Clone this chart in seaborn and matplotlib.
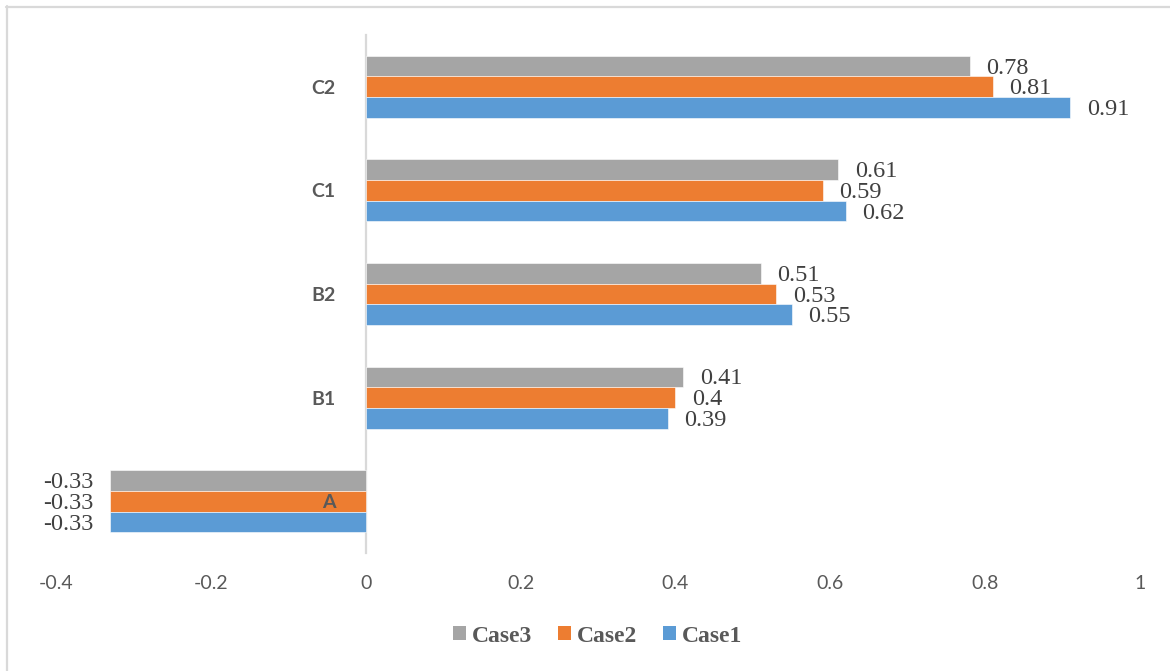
import matplotlib
matplotlib.use("Agg")
import matplotlib.pyplot as plt
from matplotlib.lines import Line2D
from matplotlib.patches import Patch
import seaborn as sns
import pandas as pd

# Scores per category for each case
categories = ["C2", "C1", "B2", "B1", "A"]
case1 = [0.91, 0.62, 0.55, 0.39, -0.33]
case2 = [0.81, 0.59, 0.53, 0.40, -0.33]
case3 = [0.78, 0.61, 0.51, 0.41, -0.33]
series_names = ["Case3", "Case2", "Case1"]
x_ticks = [-0.4, -0.2, 0, 0.2, 0.4, 0.6, 0.8, 1]
x_tick_labels = ["-0.4", "-0.2", "0", "0.2", "0.4", "0.6", "0.8", "1"]

colors = {"Case1": "#5B9BD5", "Case2": "#ED7D31", "Case3": "#A5A5A5"}
text_gray = "#595959"
label_gray = "#404040"
serif = ["Liberation Serif", "DejaVu Serif"]

df = pd.DataFrame({
    "category": categories * 3,
    "case": ["Case1"] * 5 + ["Case2"] * 5 + ["Case3"] * 5,
    "value": case1 + case2 + case3,
})

sns.set_theme(style="white")
plt.rcParams["font.family"] = ["Lato", "DejaVu Sans"]

W, H = 1170, 671
fig = plt.figure(figsize=(W / 100, H / 100), dpi=100)
ax = fig.add_axes([56 / W, 1 - 553 / H, (1140 - 56) / W, (553 - 35) / H])

sns.barplot(data=df, y="category", x="value", hue="case",
            order=categories, hue_order=series_names,
            palette=colors, orient="h", width=0.6, ax=ax,
            legend=False, saturation=1, edgecolor="white", linewidth=0.4)

# Category axis sits on x = 0
for side in ["top", "right", "bottom"]:
    ax.spines[side].set_visible(False)
ax.spines["left"].set_position(("data", 0))
ax.spines["left"].set_color("#D9D9D9")
ax.spines["left"].set_linewidth(1.6)
ax.spines["left"].set_zorder(0.5)

ax.set_xlim(-0.4, 1.0)
ax.set_ylim(4.5, -0.5)
ax.set_xticks(x_ticks)
ax.set_xticklabels(x_tick_labels, fontsize=14, color=text_gray)
ax.set_yticks(range(len(categories)))
ax.set_yticklabels(categories, fontsize=14, fontweight="bold", color=text_gray)
ax.tick_params(axis="x", length=0, pad=16)
ax.tick_params(axis="y", length=0, pad=22)
ax.set_xlabel("")
ax.set_ylabel("")
ax.set_axisbelow(False)

# Value labels at the end of each bar
for container in ax.containers:
    for bar in container:
        w = bar.get_width()
        yc = bar.get_y() + bar.get_height() / 2
        if w >= 0:
            ax.annotate(f"{w:g}", (w, yc), xytext=(12, -1.5), textcoords="offset points",
                        ha="left", va="center", fontsize=17.5, color=label_gray, family=serif)
        else:
            ax.annotate(f"{w:g}", (w, yc), xytext=(-12, -1.5), textcoords="offset points",
                        ha="right", va="center", fontsize=17.5, color=label_gray, family=serif)

handles = [Patch(facecolor=colors[n], edgecolor="none", label=n) for n in series_names]
fig.legend(handles=handles, loc="center", bbox_to_anchor=(598 / W, 1 - 636 / H),
           ncol=3, frameon=False, handlelength=0.55, handleheight=0.55,
           handletextpad=0.25, columnspacing=1.1,
           prop={"family": serif, "weight": "bold", "size": 17},
           labelcolor=text_gray)

# Chart frame along the top and left edges
fig.add_artist(Line2D([6 / W, 1], [1 - 7 / H, 1 - 7 / H], color="#D9D9D9", lw=1.6,
                      transform=fig.transFigure))
fig.add_artist(Line2D([7 / W, 7 / W], [0, 1 - 6 / H], color="#D9D9D9", lw=1.6,
                      transform=fig.transFigure))

fig.savefig("out.png", dpi=100)
